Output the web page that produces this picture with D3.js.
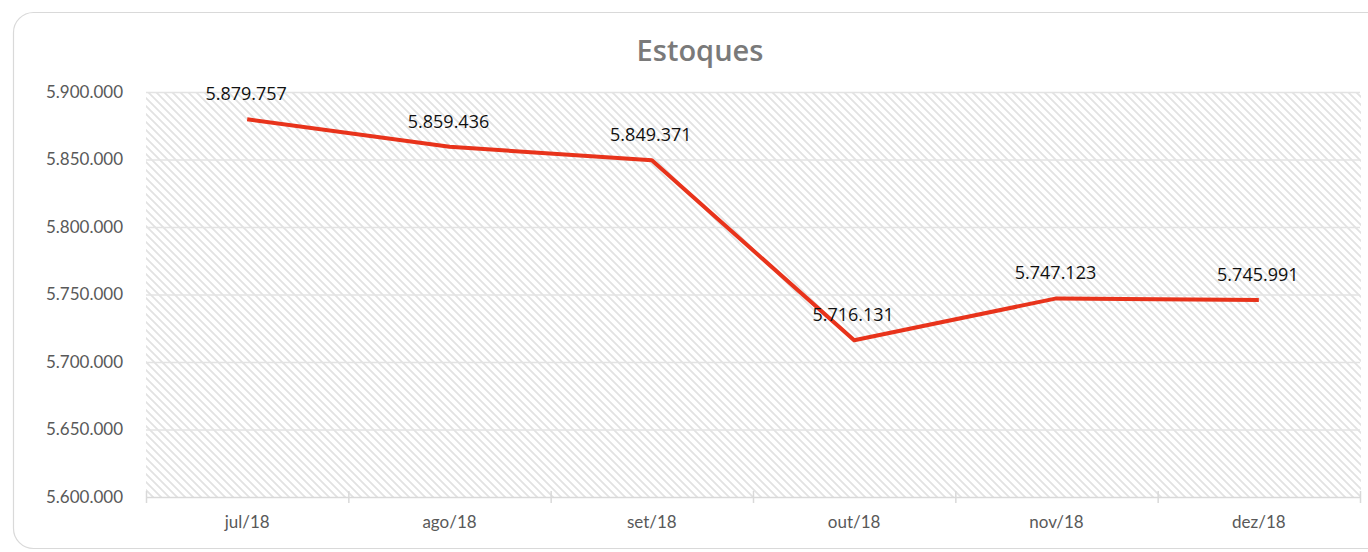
<!DOCTYPE html>
<html>
<head>
<meta charset="utf-8">
<script src="https://cdn.jsdelivr.net/npm/d3@7"></script>
<style>
    html, body { margin: 0; padding: 0; background: #fff; overflow: hidden; }
    svg { display: block; }
</style>
</head>
<body>
<svg id="canvas" width="1368" height="552"></svg>
<script>
(function () {

    // Data.
    var months = ["jul/18", "ago/18", "set/18", "out/18", "nov/18", "dez/18"];
    var estoques = [5879757, 5859436, 5849371, 5716131, 5747123, 5745991];
    var yTicks = [5600000, 5650000, 5700000, 5750000, 5800000, 5850000, 5900000];
    var title = "Estoques";

    var plot = { left: 146, right: 1360, top: 92, bottom: 497 };

    var ptBR = d3.formatLocale({ decimal: ",", thousands: ".", grouping: [3], currency: ["R$", ""] });
    var fmt = ptBR.format(",d");

    var svg = d3.select("#canvas");

    // Card background.
    svg.append("rect")
        .attr("x", 13.5).attr("y", 12.5)
        .attr("width", 1420).attr("height", 536)
        .attr("rx", 20).attr("ry", 20)
        .attr("fill", "#fff")
        .attr("stroke", "#d9d9d9")
        .attr("stroke-width", 1.2);

    // Hatch pattern for the plot area.
    var defs = svg.append("defs");
    var pat = defs.append("pattern")
        .attr("id", "hatch")
        .attr("patternUnits", "userSpaceOnUse")
        .attr("width", 8).attr("height", 8);
    pat.append("path")
        .attr("d", "M-2,-2 L10,10 M-2,6 L2,10 M6,-2 L10,2")
        .attr("stroke", "#e2e2e2")
        .attr("stroke-width", 1.8);

    var xScale = d3.scaleBand().domain(months).range([plot.left, plot.right]);
    var yScale = d3.scaleLinear().domain([5600000, 5900000]).range([plot.bottom, plot.top]);

    svg.append("rect")
        .attr("x", plot.left).attr("y", plot.top)
        .attr("width", plot.right - plot.left + 1)
        .attr("height", plot.bottom - plot.top)
        .attr("fill", "url(#hatch)");

    // Gridlines.
    svg.append("g").selectAll("line")
        .data(yTicks.slice(1))
        .join("line")
        .attr("x1", plot.left).attr("x2", plot.right)
        .attr("y1", d => yScale(d) + 0.5).attr("y2", d => yScale(d) + 0.5)
        .attr("stroke", "#e3e3e3")
        .attr("stroke-width", 1.3);

    // Y axis labels.
    var yAxis = d3.axisLeft(yScale).tickValues(yTicks).tickFormat(fmt).tickSize(0).tickPadding(23);
    var yg = svg.append("g")
        .attr("transform", "translate(" + plot.left + ",0)")
        .call(yAxis);
    yg.select(".domain").remove();
    yg.selectAll("text")
        .attr("fill", "#595959")
        .attr("font-family", "Lato")
        .attr("font-size", "17px");

    // X axis.
    var xAxis = d3.axisBottom(xScale).tickSize(0).tickPadding(19);
    var xg = svg.append("g")
        .attr("transform", "translate(0," + plot.bottom + ")")
        .call(xAxis);
    xg.select(".domain").remove();
    xg.selectAll("text")
        .attr("fill", "#595959")
        .attr("font-family", "Lato")
        .attr("font-size", "17px");
    xg.append("line")
        .attr("x1", plot.left).attr("x2", plot.right)
        .attr("y1", 0.5).attr("y2", 0.5)
        .attr("stroke", "#d9d9d9")
        .attr("stroke-width", 1.5);
    var bounds = months.map(m => xScale(m)).concat([plot.right]);
    xg.selectAll(".sep")
        .data(bounds)
        .join("line")
        .attr("class", "sep")
        .attr("x1", d => d + 0.5).attr("x2", d => d + 0.5)
        .attr("y1", -6).attr("y2", 6)
        .attr("stroke", "#d9d9d9")
        .attr("stroke-width", 1.5);

    // Line.
    var cx = d => xScale(d) + xScale.bandwidth() / 2;
    var line = d3.line()
        .x((d, i) => cx(months[i]))
        .y(d => yScale(d));
    svg.append("path")
        .datum(estoques)
        .attr("d", line)
        .attr("fill", "none")
        .attr("stroke", "#e8331b")
        .attr("stroke-width", 4)
        .attr("stroke-linejoin", "round");

    // Data labels.
    svg.append("g").selectAll("text")
        .data(estoques)
        .join("text")
        .attr("x", (d, i) => cx(months[i]) - 1)
        .attr("y", d => yScale(d) - 19)
        .attr("text-anchor", "middle")
        .attr("font-family", "Open Sans")
        .attr("font-size", "18px")
        .attr("fill", "#111")
        .text(d => fmt(d));

    // Title.
    svg.append("text")
        .attr("x", 700).attr("y", 61)
        .attr("text-anchor", "middle")
        .attr("font-family", "Open Sans")
        .attr("font-size", "29px")
        .attr("font-weight", 600)
        .attr("fill", "#7a7a7a")
        .text(title);

})();
</script>
</body>
</html>
